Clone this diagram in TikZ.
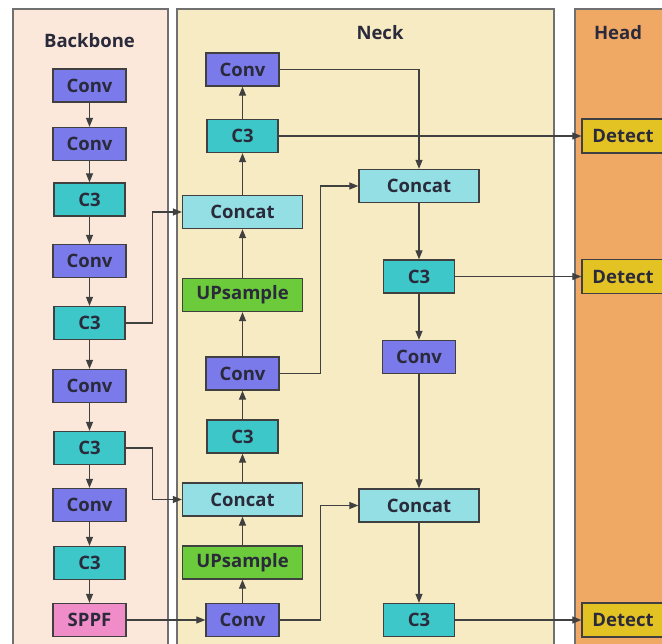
\documentclass[tikz,border=0pt]{standalone}
\usepackage{fontspec}
\setsansfont{Open Sans}
\usetikzlibrary{arrows.meta}
\definecolor{bbbg}{HTML}{FBE8DA}
\definecolor{neckbg}{HTML}{F6EBC3}
\definecolor{headbg}{HTML}{F0A865}
\definecolor{convc}{HTML}{7A7AEB}
\definecolor{c3c}{HTML}{3DC7C8}
\definecolor{concatc}{HTML}{93DFE3}
\definecolor{upc}{HTML}{6CCB3A}
\definecolor{sppfc}{HTML}{F08CC8}
\definecolor{detc}{HTML}{E3C224}
\definecolor{txtc}{HTML}{2A2A3A}
\definecolor{linec}{HTML}{404040}
\definecolor{panelc}{HTML}{707070}
\tikzset{
  blk/.style={draw=linec, line width=1.3pt, inner sep=0pt, minimum height=33pt,
    text=txtc, font=\sffamily\bfseries\fontsize{18.5}{20}\selectfont},
  convb/.style={blk, fill=convc, minimum width=73pt},
  c3b/.style={blk, fill=c3c, minimum width=71pt},
  catb/.style={blk, fill=concatc, minimum width=120pt},
  upb/.style={blk, fill=upc, minimum width=120pt},
  sppfb/.style={blk, fill=sppfc, minimum width=73pt},
  detb/.style={blk, fill=detc, minimum width=82pt, minimum height=34pt},
  panel/.style={draw=panelc, line width=1.3pt},
  ttl/.style={text=txtc, font=\sffamily\bfseries\fontsize{18.5}{20}\selectfont},
  conn/.style={draw=linec, line width=1.2pt, -{Triangle[length=9pt,width=7pt]}},
  link/.style={draw=linec, line width=1.2pt}
}
\begin{document}
\begin{tikzpicture}[x=1pt,y=-1pt]
\useasboundingbox (0,0) rectangle (662,644);
\clip (0,0) rectangle (662,644);
\fill[white] (0,0) rectangle (662,644);
% panels
\draw[panel, fill=bbbg] (13,9) rectangle (168,660);
\draw[panel, fill=neckbg] (177,9) rectangle (554,660);
\draw[panel, fill=headbg] (575,9) rectangle (680,660);
\node[ttl] (tb) at (89.5,41) {Backbone};
\node[ttl] (tn) at (380,33) {Neck};
\node[ttl] (th) at (618,33) {Head};
% backbone
\node[convb] (b1) at (89.5,85.5) {Conv};
\node[convb] (b2) at (89.5,144) {Conv};
\node[c3b] (b3) at (89.5,199.5) {C3};
\node[convb] (b4) at (89.5,261) {Conv};
\node[c3b] (b5) at (89.5,323) {C3};
\node[convb] (b6) at (89.5,386) {Conv};
\node[c3b] (b7) at (89.5,448) {C3};
\node[convb] (b8) at (89.5,505) {Conv};
\node[c3b] (b9) at (89.5,563) {C3};
\node[sppfb] (b10) at (89.5,620) {SPPF};
% neck column 1
\node[convb] (n1) at (242.5,69.5) {Conv};
\node[c3b] (n2) at (242.5,136) {C3};
\node[catb] (n3) at (242.5,212) {Concat};
\node[upb] (n4) at (242.5,295) {UPsample};
\node[convb] (n5) at (242.5,373.5) {Conv};
\node[c3b] (n6) at (242.5,436.5) {C3};
\node[catb] (n7) at (242.5,499.5) {Concat};
\node[upb] (n8) at (242.5,562.5) {UPsample};
\node[convb] (n9) at (242.5,620) {Conv};
% neck column 2
\node[catb] (m1) at (419,186) {Concat};
\node[c3b] (m2) at (419,276.5) {C3};
\node[convb] (m3) at (419,357) {Conv};
\node[catb] (m4) at (419,505.5) {Concat};
\node[c3b] (m5) at (419,620) {C3};
% head
\node[detb] (d1) at (623,136) {Detect};
\node[detb] (d2) at (623,276.5) {Detect};
\node[detb] (d3) at (623,620) {Detect};
% backbone chain
\foreach \a/\b in {b1/b2,b2/b3,b3/b4,b4/b5,b5/b6,b6/b7,b7/b8,b8/b9,b9/b10}
  \draw[conn] (\a) -- (\b);
% neck up chain
\foreach \a/\b in {n9/n8,n8/n7,n7/n6,n6/n5,n5/n4,n4/n3,n3/n2,n2/n1}
  \draw[conn] (\a) -- (\b);
% neck down chain
\foreach \a/\b in {m1/m2,m2/m3,m3/m4,m4/m5}
  \draw[conn] (\a) -- (\b);
% skip connections
\draw[conn] (b5.east) -- ++(27,0) |- (n3.west);
\draw[conn] (b7.east) -- ++(27,0) |- (n7.west);
\draw[conn] (b10) -- (n9);
\draw[conn] (n9.east) -- ++(41,0) |- (m4.west);
\draw[conn] (n5.east) -- ++(41,0) |- (m1.west);
\draw[conn] (n1.east) -| (m1.north);
% to head
\draw[conn] (n2) -- (d1);
\draw[conn] (m2) -- (d2);
\draw[conn] (m5) -- (d3);
\end{tikzpicture}
\end{document}
